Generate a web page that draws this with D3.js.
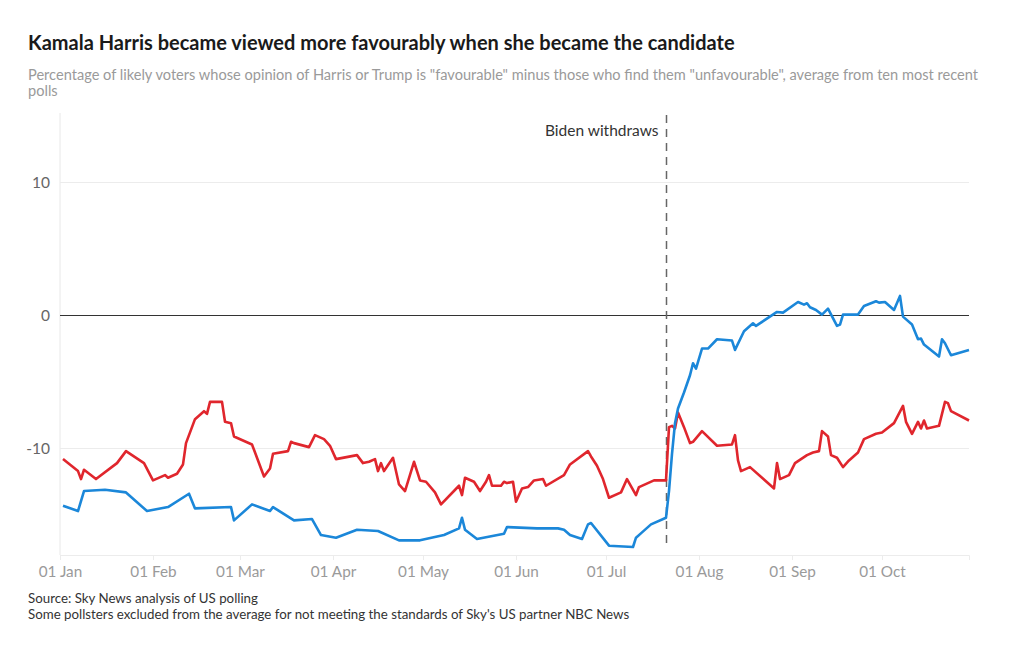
<!DOCTYPE html>
<html>
<head>
<meta charset="utf-8">
<script src="https://cdn.jsdelivr.net/npm/d3@7"></script>
<style>
  html, body { margin: 0; padding: 0; background: #fff; }
  svg { display: block; font-family: Lato, "Noto Sans", sans-serif; }
</style>
</head>
<body>
<svg id="chart" width="1020" height="650"></svg>
<script>
// ---- data ----
const harrisDates = ["2024-01-02","2024-01-07","2024-01-09","2024-01-16","2024-01-23","2024-01-30","2024-02-06","2024-02-13","2024-02-15","2024-02-27","2024-02-28","2024-03-05","2024-03-11","2024-03-12","2024-03-19","2024-03-25","2024-03-28","2024-04-02","2024-04-09","2024-04-16","2024-04-23","2024-04-30","2024-05-08","2024-05-13","2024-05-14","2024-05-15","2024-05-19","2024-05-28","2024-05-29","2024-06-08","2024-06-15","2024-06-17","2024-06-19","2024-06-23","2024-06-25","2024-06-26","2024-07-02","2024-07-10","2024-07-11","2024-07-13","2024-07-16","2024-07-21","2024-07-22","2024-07-23","2024-07-24","2024-07-25","2024-07-27","2024-07-29","2024-07-30","2024-07-31","2024-08-02","2024-08-04","2024-08-07","2024-08-12","2024-08-13","2024-08-16","2024-08-19","2024-08-20","2024-08-27","2024-08-29","2024-09-03","2024-09-05","2024-09-06","2024-09-07","2024-09-09","2024-09-11","2024-09-13","2024-09-16","2024-09-17","2024-09-18","2024-09-23","2024-09-25","2024-09-29","2024-09-30","2024-10-02","2024-10-05","2024-10-07","2024-10-08","2024-10-11","2024-10-13","2024-10-14","2024-10-15","2024-10-20","2024-10-21","2024-10-22","2024-10-24","2024-10-30"];
const harrisValues = [-14.3,-14.7,-13.2,-13.1,-13.3,-14.7,-14.4,-13.4,-14.5,-14.4,-15.4,-14.2,-14.7,-14.4,-15.4,-15.3,-16.5,-16.7,-16.1,-16.2,-16.9,-16.9,-16.5,-16.0,-15.2,-16.1,-16.8,-16.4,-15.9,-16.0,-16.0,-16.1,-16.5,-16.8,-15.7,-15.6,-17.3,-17.4,-16.7,-16.3,-15.7,-15.2,-13.2,-10.4,-8.1,-7.0,-5.8,-4.5,-3.6,-4.0,-2.5,-2.5,-1.8,-1.9,-2.6,-1.2,-0.6,-0.8,0.25,0.2,1.0,0.8,0.9,0.6,0.4,0.05,0.5,-0.8,-0.7,0.05,0.05,0.7,1.05,0.95,1.0,0.4,1.45,-0.1,-0.7,-1.8,-1.75,-2.2,-3.1,-1.8,-2.1,-3.0,-2.6];

const trumpDates = ["2024-01-02","2024-01-07","2024-01-08","2024-01-09","2024-01-13","2024-01-20","2024-01-23","2024-01-29","2024-02-01","2024-02-05","2024-02-06","2024-02-09","2024-02-11","2024-02-12","2024-02-15","2024-02-18","2024-02-19","2024-02-20","2024-02-24","2024-02-25","2024-02-27","2024-02-28","2024-03-05","2024-03-09","2024-03-11","2024-03-12","2024-03-17","2024-03-18","2024-03-19","2024-03-24","2024-03-26","2024-03-29","2024-03-31","2024-04-02","2024-04-09","2024-04-11","2024-04-13","2024-04-15","2024-04-16","2024-04-17","2024-04-18","2024-04-21","2024-04-23","2024-04-25","2024-04-28","2024-04-30","2024-05-02","2024-05-05","2024-05-07","2024-05-13","2024-05-14","2024-05-15","2024-05-18","2024-05-20","2024-05-22","2024-05-23","2024-05-24","2024-05-27","2024-05-28","2024-05-29","2024-05-31","2024-06-01","2024-06-03","2024-06-05","2024-06-07","2024-06-10","2024-06-11","2024-06-17","2024-06-19","2024-06-25","2024-06-26","2024-06-28","2024-06-30","2024-07-02","2024-07-06","2024-07-08","2024-07-11","2024-07-12","2024-07-17","2024-07-21","2024-07-22","2024-07-23","2024-07-24","2024-07-25","2024-07-27","2024-07-29","2024-07-30","2024-08-02","2024-08-07","2024-08-12","2024-08-13","2024-08-14","2024-08-15","2024-08-18","2024-08-25","2024-08-26","2024-08-27","2024-08-28","2024-08-31","2024-09-02","2024-09-06","2024-09-08","2024-09-10","2024-09-11","2024-09-13","2024-09-14","2024-09-16","2024-09-18","2024-09-20","2024-09-23","2024-09-25","2024-09-29","2024-10-01","2024-10-05","2024-10-08","2024-10-09","2024-10-11","2024-10-13","2024-10-14","2024-10-15","2024-10-16","2024-10-20","2024-10-22","2024-10-23","2024-10-24","2024-10-30"];
const trumpValues = [-10.8,-11.7,-12.3,-11.6,-12.3,-11.1,-10.2,-11.1,-12.4,-12.0,-12.2,-11.9,-11.2,-9.6,-7.8,-7.2,-7.4,-6.5,-6.5,-8.0,-8.1,-9.1,-9.7,-12.1,-11.5,-10.4,-10.2,-9.5,-9.6,-9.9,-9.0,-9.3,-9.8,-10.8,-10.5,-11.1,-11.0,-10.8,-11.7,-11.1,-11.7,-10.7,-12.7,-13.2,-11.0,-12.4,-12.5,-13.3,-14.2,-12.8,-13.5,-12.2,-12.5,-13.2,-12.5,-12.0,-12.8,-12.8,-12.5,-12.6,-12.5,-14.0,-13.0,-12.9,-12.4,-12.3,-12.8,-12.0,-11.2,-10.2,-10.6,-11.3,-12.3,-13.7,-13.3,-12.3,-13.5,-12.9,-12.4,-12.4,-8.4,-8.3,-8.5,-7.3,-8.4,-9.6,-9.5,-8.7,-9.8,-9.7,-9.0,-10.9,-11.7,-11.4,-12.8,-13.0,-11.1,-12.3,-12.0,-11.1,-10.5,-10.3,-10.2,-8.7,-9.1,-10.5,-10.7,-11.4,-10.9,-10.3,-9.3,-8.9,-8.8,-8.1,-6.8,-8.0,-8.9,-8.0,-8.5,-7.9,-8.5,-8.3,-6.5,-6.6,-7.2,-7.9];

const yTicks = [-10, 0, 10];
const xTickDates = ["2024-01-01","2024-02-01","2024-03-01","2024-04-01","2024-05-01","2024-06-01","2024-07-01","2024-08-01","2024-09-01","2024-10-01"];
const eventDate = "2024-07-21";
const eventLabel = "Biden withdraws";

const titleText = "Kamala Harris became viewed more favourably when she became the candidate";
const subtitleLines = ["Percentage of likely voters whose opinion of Harris or Trump is \"favourable\" minus those who find them \"unfavourable\", average from ten most recent", "polls"];
const sourceLines = ["Source: Sky News analysis of US polling", "Some pollsters excluded from the average for not meeting the standards of Sky's US partner NBC News"];

// ---- drawing ----
(function draw() {
const parse = d3.utcParse("%Y-%m-%d");
const svg = d3.select("#chart");
const pLeft = 60, pRight = 969, pTop = 115, pBottom = 555;

const x = d3.scaleUtc().domain([parse("2024-01-01"), parse("2024-10-30")]).range([pLeft, pRight]);
const y = d3.scaleLinear().domain([-18, 15]).range([pBottom, pTop + 0.5]);

// title
svg.append("text").attr("x", 28).attr("y", 50)
  .attr("font-size", 20).attr("font-weight", 700).attr("fill", "#1a1a1a")
  .text(titleText);
svg.append("g").selectAll("text").data(subtitleLines).join("text")
  .attr("x", 28).attr("y", (d, i) => 80 + i * 16)
  .attr("font-size", 14.6).attr("fill", "#9a9a9a").text(d => d);

// y axis vertical line
svg.append("line").attr("x1", pLeft).attr("x2", pLeft).attr("y1", pTop - 2).attr("y2", pBottom)
  .attr("stroke", "#e8e8e8").attr("stroke-width", 1);

// gridlines
svg.append("g").selectAll("line").data(yTicks).join("line")
  .attr("x1", pLeft).attr("x2", pRight)
  .attr("y1", d => Math.round(y(d)) + 0.5).attr("y2", d => Math.round(y(d)) + 0.5)
  .attr("stroke", d => d === 0 ? "#333" : "#ececec").attr("stroke-width", 1);

// y tick labels
svg.append("g").selectAll("text").data(yTicks).join("text")
  .attr("x", 50).attr("y", d => y(d) + 5.5).attr("text-anchor", "end")
  .attr("font-size", 15.5).attr("fill", "#666").text(d => d);

// x axis
const xAxis = d3.axisBottom(x).tickValues(xTickDates.map(parse))
  .tickFormat(d3.utcFormat("%d %b")).tickSize(5).tickPadding(6);
const gx = svg.append("g").attr("transform", `translate(0,${pBottom})`).call(xAxis);
gx.select(".domain").attr("stroke", "#ececec");
gx.selectAll(".tick line").attr("stroke", "#ececec");
gx.selectAll(".tick text").attr("font-size", 15.3).attr("fill", "#9a9a9a")
  .attr("font-family", "Lato, sans-serif");

// event line
const ex = Math.round(x(parse(eventDate))) + 0.5;
svg.append("line").attr("x1", ex).attr("x2", ex).attr("y1", pTop).attr("y2", pBottom - 7)
  .attr("stroke", "#666").attr("stroke-width", 1.5).attr("stroke-dasharray", "8,6");
svg.append("text").attr("x", ex - 8).attr("y", 136).attr("text-anchor", "end")
  .attr("font-size", 15.5).attr("fill", "#333").text(eventLabel);

// lines
const line = d3.line().x(d => x(d[0])).y(d => y(d[1]));
const trump = trumpDates.map((d, i) => [parse(d), trumpValues[i]]);
const harris = harrisDates.map((d, i) => [parse(d), harrisValues[i]]);
svg.append("path").datum(trump).attr("d", line).attr("fill", "none")
  .attr("stroke", "#e0262d").attr("stroke-width", 2.6).attr("stroke-linejoin", "round");
svg.append("path").datum(harris).attr("d", line).attr("fill", "none")
  .attr("stroke", "#1b87d9").attr("stroke-width", 2.6).attr("stroke-linejoin", "round");

// source
svg.append("g").selectAll("text").data(sourceLines).join("text")
  .attr("x", 28).attr("y", (d, i) => 603 + i * 15.5)
  .attr("font-size", 13.3).attr("fill", "#333").text(d => d);
})();
</script>
</body>
</html>
